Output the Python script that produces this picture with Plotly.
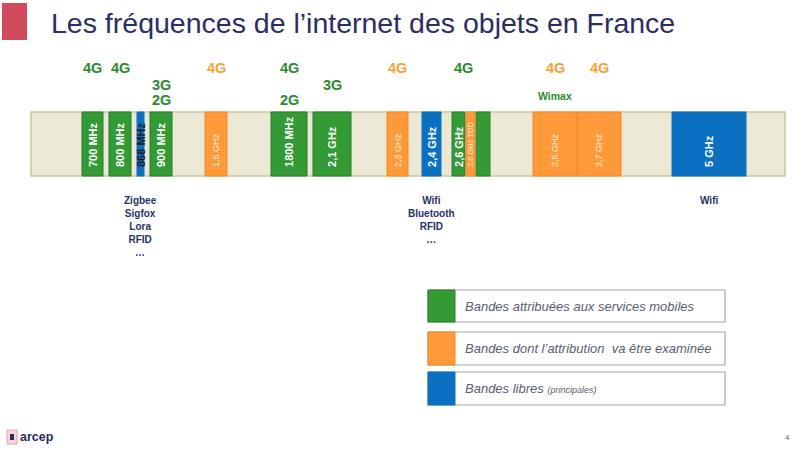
import plotly.graph_objects as go

# ---------------- DATA ----------------
title_text = "Les fréquences de l\u2019internet des objets en France"

band_labels = ["700 MHz", "800 MHz", "868 MHz", "900 MHz", "1,5 GHz", "1800 MHz",
               "2,1 GHz", "2,3 GHz", "2,4 GHz", "2,6 GHz", "2,6 GHz TDD", "",
               "3,5 GHz", "3,7 GHz", "5 GHz"]
band_start = [82, 109, 137, 150, 205, 271, 313, 387, 422, 452, 466, 476, 533, 577, 672]
band_end = [103, 131, 144, 172, 227, 307, 351, 408, 441, 465, 475, 490, 577, 621, 746]
band_status = ["mobile", "mobile", "libre", "mobile", "examen", "mobile", "mobile",
               "examen", "libre", "mobile", "examen", "mobile", "examen", "examen", "libre"]

# technology labels above the strip: text, first band, last band, row, colour kind
tech_labels = ["4G", "4G", "3G", "2G", "4G", "4G", "2G", "3G", "4G", "4G", "4G", "4G", "Wimax"]
tech_first = [0, 1, 3, 3, 4, 5, 5, 6, 7, 9, 12, 13, 12]
tech_last = [0, 1, 3, 3, 4, 5, 5, 6, 7, 10, 12, 13, 12]
tech_row = [0, 0, 1, 2, 0, 0, 2, 1, 0, 0, 0, 0, 3]
tech_kind = ["mobile", "mobile", "mobile", "mobile", "examen", "mobile", "mobile",
             "mobile", "examen", "mobile", "examen", "examen", "mobile"]

# usages below the strip
usage_text = ["Zigbee<br>Sigfox<br>Lora<br>RFID<br>\u2026",
              "Wifi<br>Bluetooth<br>RFID<br>\u2026",
              "Wifi"]
usage_band = [2, 8, 14]

legend_kinds = ["mobile", "examen", "libre"]
legend_texts = ["Bandes attribuées aux services mobiles",
                "Bandes dont l\u2019attribution  va être examinée",
                "Bandes libres <span style='font-size:9px'>(principales)</span>"]

# ---------------- STYLE ----------------
FONT = "Liberation Sans, Arial, sans-serif"
fill = {"mobile": "#339a35", "examen": "#ff9a3a", "libre": "#0b70c0"}
edge = {"mobile": "#2a7f2b", "examen": "#f7862a", "libre": "#0b70c0"}
tech_color = {"mobile": "#2b8a2d", "examen": "#f7a033"}
STRIP_TOP, STRIP_BOT = 112, 176
STRIP_L, STRIP_R = 31, 785
row_y = [68, 85, 100, 96]

text_size = {"mobile": 11, "examen": 9, "libre": 11}
text_bold = {"mobile": True, "examen": False, "libre": True}

fig = go.Figure()

centers = [(a + b) / 2 for a, b in zip(band_start, band_end)]
widths = [b - a for a, b in zip(band_start, band_end)]

for kind in ["mobile", "examen", "libre"]:
    idx = [i for i, s in enumerate(band_status) if s == kind]
    fig.add_trace(go.Bar(
        x=[centers[i] for i in idx],
        y=[STRIP_BOT - STRIP_TOP] * len(idx),
        base=[STRIP_TOP] * len(idx),
        width=[widths[i] for i in idx],
        marker=dict(color=fill[kind], line=dict(color=edge[kind], width=1)),
        hoverinfo="skip",
    ))

# text-carrying transparent bars (text anchored toward the bottom)
labels_fmt, sizes, colors = [], [], []
for i, (lab, st) in enumerate(zip(band_labels, band_status)):
    size = text_size[st]
    col = "#ffffff" if st != "examen" else "#fff1e0"
    if lab.endswith("TDD"):
        size = 7.5
    if lab == "868 MHz":
        col = "#1c1c2e"
    labels_fmt.append(f"<b>{lab}</b>" if (text_bold[st] and lab) else lab)
    sizes.append(size)
    colors.append(col)

fig.add_trace(go.Bar(
    x=centers,
    y=[STRIP_BOT - STRIP_TOP - 6] * len(centers),
    base=[STRIP_TOP] * len(centers),
    width=widths,
    marker=dict(color="rgba(0,0,0,0)", line=dict(width=0)),
    text=labels_fmt,
    textposition="inside",
    insidetextanchor="end",
    textangle=-90,
    constraintext="none",
    textfont=dict(family=FONT, size=sizes, color=colors),
    cliponaxis=False,
    hoverinfo="skip",
))

# technology labels
for lab, f, l, r, k in zip(tech_labels, tech_first, tech_last, tech_row, tech_kind):
    xc = (band_start[f] + band_end[l]) / 2
    fig.add_annotation(x=xc, y=row_y[r], text=f"<b>{lab}</b>", showarrow=False,
                       xanchor="center", yanchor="middle",
                       font=dict(family=FONT, size=10.5 if lab == "Wimax" else 14.5,
                                 color=tech_color[k]))

# usage labels
for txt, b in zip(usage_text, usage_band):
    fig.add_annotation(x=centers[b], y=193, text=f"<b>{txt}</b>", showarrow=False,
                       xanchor="center", yanchor="top", align="center",
                       font=dict(family=FONT, size=10, color="#263366"))

shapes = []
# strip background
shapes.append(dict(type="rect", x0=STRIP_L, x1=STRIP_R, y0=STRIP_TOP, y1=STRIP_BOT,
                   fillcolor="#ebe9d6", line=dict(color="#c6c89a", width=1.5), layer="below"))
# title marker
shapes.append(dict(type="rect", x0=2, x1=27, y0=3, y1=40, fillcolor="#d24b5d",
                   line=dict(width=0), layer="below"))
# legend boxes
box_y = [(290, 322), (332, 365), (372, 405)]
for (y0, y1), kind, txt in zip(box_y, legend_kinds, legend_texts):
    shapes.append(dict(type="rect", x0=428, x1=725, y0=y0, y1=y1, fillcolor="white",
                       line=dict(color="#a6a6a6", width=1.2), layer="below"))
    shapes.append(dict(type="rect", x0=428, x1=455, y0=y0, y1=y1, fillcolor=fill[kind],
                       line=dict(color=edge[kind], width=1)))
    fig.add_annotation(x=463, y=(y0 + y1) / 2, text=f"<i>{txt}</i>", showarrow=False,
                       xanchor="left", yanchor="middle",
                       font=dict(family=FONT, size=13, color="#5a5e6e"))

# footer logo
shapes.append(dict(type="rect", x0=7, x1=17, y0=430, y1=444, fillcolor="#f6d6dc",
                   line=dict(color="#e9a3b0", width=1)))
shapes.append(dict(type="rect", x0=10, x1=14, y0=434, y1=440, fillcolor="#2a2a5e",
                   line=dict(width=0)))

fig.add_annotation(x=49, y=23, text=title_text, showarrow=False, xanchor="left",
                   yanchor="middle", font=dict(family=FONT, size=28.5, color="#2b2e63"))
fig.add_annotation(x=18, y=437, text="<b>arcep</b>", showarrow=False, xanchor="left",
                   yanchor="middle", font=dict(family=FONT, size=12.5, color="#2a2a5e"))
fig.add_annotation(x=787, y=437, text="4", showarrow=False, xanchor="center",
                   yanchor="middle", font=dict(family=FONT, size=8, color="#666666"))

fig.update_layout(
    width=801, height=452,
    margin=dict(l=0, r=0, t=0, b=0),
    paper_bgcolor="white", plot_bgcolor="white",
    barmode="overlay", bargap=0,
    showlegend=False,
    hovermode=False,
    shapes=shapes,
    xaxis=dict(range=[0, 801], visible=False, fixedrange=True),
    yaxis=dict(range=[452, 0], visible=False, fixedrange=True),
)

fig.write_html("out.html", config={"displayModeBar": False, "staticPlot": True},
               post_script="document.body.style.margin='0';document.body.style.overflow='hidden';")
